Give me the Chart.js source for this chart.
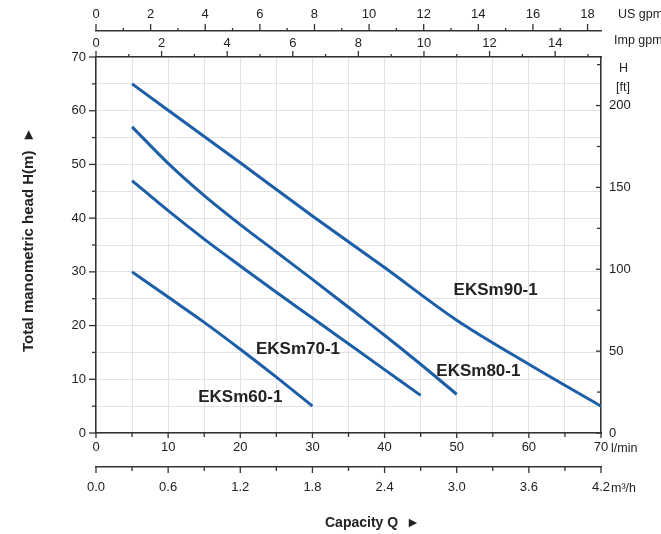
<!DOCTYPE html>
<html>
<head>
<meta charset="utf-8">
<script src="https://cdn.jsdelivr.net/npm/chart.js@4.4.0/dist/chart.umd.min.js"></script>
<style>
  html, body { margin: 0; padding: 0; background: #fff; }
</style>
</head>
<body>
<canvas id="pumpCurves" width="661" height="534"></canvas>
<script>
// curve data (Q in l/min, H in m)
const models = ["EKSm60-1", "EKSm70-1", "EKSm80-1", "EKSm90-1"];
const q60 = [5, 10, 15, 20, 25, 30];
const h60 = [30, 25.3, 20.6, 15.6, 10.4, 5];
const q70 = [5, 10, 15, 20, 25, 30, 35, 40, 45];
const h70 = [47, 41.4, 36.1, 31.1, 26.2, 21.4, 16.6, 11.8, 7];
const q80 = [5, 10, 15, 20, 25, 30, 35, 40, 45, 50];
const h80 = [57, 50.2, 44.2, 38.8, 33.7, 28.6, 23.4, 18.2, 12.8, 7.2];
const q90 = [5, 10, 20, 30, 40, 50, 60, 70];
const h90 = [65, 60.1, 50.3, 40.4, 30.8, 21, 12.8, 5];

// where the model names sit (data coords)
const labelQ = [20, 28, 53, 55.4];
const labelH = [6.7, 15.6, 11.5, 26.6];

// tick labels for every axis
const lminTicks = [0, 10, 20, 30, 40, 50, 60, 70];
const lminMinor = [5, 15, 25, 35, 45, 55, 65];
const m3hTicks = [0, 0.6, 1.2, 1.8, 2.4, 3.0, 3.6, 4.2];
const m3hMinor = [0.3, 0.9, 1.5, 2.1, 2.7, 3.3, 3.9];
const usGpmTicks = [0, 2, 4, 6, 8, 10, 12, 14, 16, 18];
const usGpmMinor = [1, 3, 5, 7, 9, 11, 13, 15, 17];
const impGpmTicks = [0, 2, 4, 6, 8, 10, 12, 14];
const impGpmMinor = [1, 3, 5, 7, 9, 11, 13, 15];
const headTicks = [0, 10, 20, 30, 40, 50, 60, 70];
const headMinor = [5, 15, 25, 35, 45, 55, 65];
const ftTicks = [0, 50, 100, 150, 200];
const ftMinor = [25, 75, 125, 175, 225];

const Q_MAX = 70, H_MAX = 70;
const FONT = "'Liberation Sans', Arial, sans-serif";
const INK = "#222";
const CURVE = "#1d5ea8";

const pts = (qs, hs) => qs.map((q, i) => ({ x: q, y: hs[i] }));
const useTicks = (vals) => (s) => { s.ticks = vals.slice().sort((a, b) => a - b).map(v => ({ value: v })); };
const tickFont = { family: FONT, size: 13 };
const border = { display: true, color: "#333", width: 1.5 };

// tick marks drawn by hand so majors and minors can differ in length
const tickMarks = {
    id: "tickMarks",
    afterDraw(chart) {
        const { ctx, scales } = chart;
        ctx.save();
        ctx.strokeStyle = "#333";
        ctx.lineWidth = 1.3;
        const mark = (x1, y1, x2, y2) => { ctx.beginPath(); ctx.moveTo(x1, y1); ctx.lineTo(x2, y2); ctx.stroke(); };
        const horiz = (s, vals, len, edge, dir) => vals.forEach(v => { const p = s.getPixelForValue(v); mark(p, edge, p, edge + dir * len); });
        const vert = (s, vals, len, edge, dir) => vals.forEach(v => { const p = s.getPixelForValue(v); mark(edge, p, edge + dir * len, p); });

        horiz(scales.x, lminTicks, 5, scales.x.top, 1);
        horiz(scales.x, lminMinor, 4, scales.x.top, 1);
        horiz(scales.m3h, m3hTicks, 6, scales.m3h.top, 1);
        horiz(scales.m3h, m3hMinor, 4, scales.m3h.top, 1);
        horiz(scales.imp, impGpmTicks, 6, scales.imp.bottom, -1);
        horiz(scales.imp, impGpmMinor, 3, scales.imp.bottom, -1);
        horiz(scales.us, usGpmTicks, 7, scales.us.bottom, -1);
        horiz(scales.us, usGpmMinor, 3, scales.us.bottom, -1);
        vert(scales.y, headTicks, 7, scales.y.right, -1);
        vert(scales.y, headMinor, 4, scales.y.right, -1);
        vert(scales.ft, ftTicks, 5, scales.ft.left, -1);
        vert(scales.ft, ftMinor, 4, scales.ft.left, -1);
        ctx.restore();
    }
};

// model names, unit names and the two axis titles
const chartTexts = {
    id: "chartTexts",
    afterDraw(chart) {
        const { ctx, scales } = chart;
        ctx.save();
        ctx.fillStyle = INK;
        ctx.textBaseline = "middle";

        ctx.font = `bold 17px ${FONT}`;
        ctx.textAlign = "center";
        models.forEach((m, i) => {
            ctx.fillText(m, scales.x.getPixelForValue(labelQ[i]), scales.y.getPixelForValue(labelH[i]));
        });

        ctx.font = `12.5px ${FONT}`;
        ctx.textAlign = "left";
        ctx.fillText("US gpm", 618, 15);
        ctx.fillText("Imp gpm", 614, 41);
        ctx.fillText("H", 619, 69);
        ctx.fillText("[ft]", 616, 88);
        ctx.fillText("l/min", 611, 449);
        ctx.fillText("m³/h", 611, 489);

        ctx.font = `bold 14px ${FONT}`;
        ctx.fillText("Capacity Q  ►", 325, 523);

        ctx.font = `bold 15px ${FONT}`;
        ctx.translate(29, 352);
        ctx.rotate(-Math.PI / 2);
        ctx.fillText("Total manometric head H(m)  ►", 0, 0);
        ctx.restore();
    }
};

new Chart(document.getElementById("pumpCurves"), {
    type: "line",
    data: {
        datasets: [
            { label: models[0], data: pts(q60, h60) },
            { label: models[1], data: pts(q70, h70) },
            { label: models[2], data: pts(q80, h80) },
            { label: models[3], data: pts(q90, h90) }
        ].map(d => Object.assign(d, {
            xAxisID: "x", yAxisID: "y",
            borderColor: CURVE, borderWidth: 3, pointRadius: 0,
            tension: 0.4, cubicInterpolationMode: "monotone", fill: false
        }))
    },
    options: {
        responsive: false,
        animation: false,
        layout: { padding: 0 },
        plugins: { legend: { display: false }, tooltip: { enabled: false } },
        scales: {
            x: {
                type: "linear", position: "bottom", weight: 1, min: 0, max: Q_MAX,
                afterBuildTicks: useTicks(lminTicks.concat(lminMinor)),
                afterFit: s => { s.height = 34; },
                grid: { color: "#e2e2e2", lineWidth: 1, drawTicks: false },
                border,
                ticks: { autoSkip: false, maxRotation: 0, padding: 7, color: INK, font: tickFont,
                    callback: v => lminTicks.includes(v) ? String(v) : "" }
            },
            m3h: {
                type: "linear", position: "bottom", weight: 2, min: 0, max: Q_MAX * 0.06,
                afterBuildTicks: useTicks(m3hTicks),
                afterFit: s => { s.height = 67; },
                grid: { display: false, drawTicks: false },
                border,
                ticks: { autoSkip: false, maxRotation: 0, padding: 13, color: INK, font: tickFont,
                    callback: v => v.toFixed(1) }
            },
            imp: {
                type: "linear", position: "top", weight: 1, min: 0, max: Q_MAX / 4.54609,
                afterBuildTicks: useTicks(impGpmTicks),
                afterFit: s => { s.height = 26; },
                grid: { display: false, drawTicks: false },
                border,
                ticks: { autoSkip: false, maxRotation: 0, padding: 6, color: INK, font: tickFont }
            },
            us: {
                type: "linear", position: "top", weight: 2, min: 0, max: Q_MAX / 3.78541,
                afterBuildTicks: useTicks(usGpmTicks),
                afterFit: s => { s.height = 31; },
                grid: { display: false, drawTicks: false },
                border,
                ticks: { autoSkip: false, maxRotation: 0, padding: 9, color: INK, font: tickFont }
            },
            y: {
                type: "linear", position: "left", min: 0, max: H_MAX,
                afterBuildTicks: useTicks(headTicks.concat(headMinor)),
                afterFit: s => { s.width = 96; },
                grid: { color: "#e2e2e2", lineWidth: 1, drawTicks: false },
                border,
                ticks: { autoSkip: false, padding: 10, color: INK, font: tickFont,
                    callback: v => headTicks.includes(v) ? String(v) : "" }
            },
            ft: {
                type: "linear", position: "right", min: 0, max: H_MAX * 3.28084,
                afterBuildTicks: useTicks(ftTicks),
                afterFit: s => { s.width = 60; },
                grid: { display: false, drawTicks: false },
                border,
                ticks: { autoSkip: false, padding: 8, color: INK, font: tickFont }
            }
        }
    },
    plugins: [tickMarks, chartTexts]
});
</script>
</body>
</html>
